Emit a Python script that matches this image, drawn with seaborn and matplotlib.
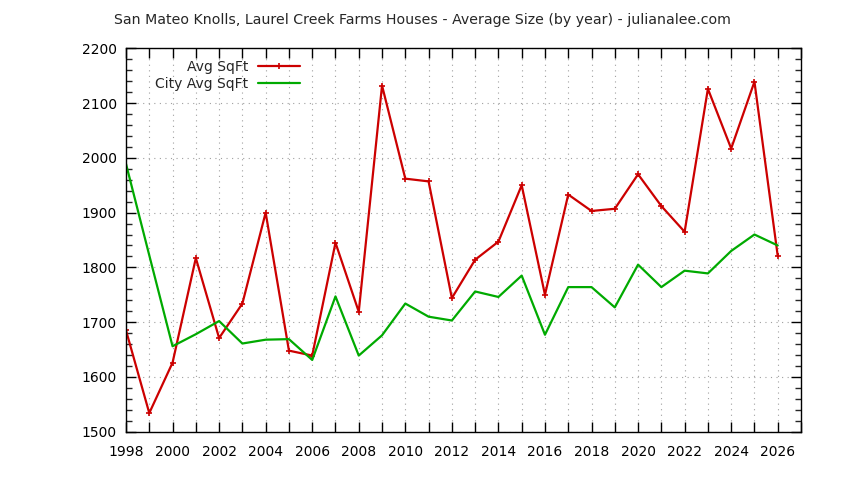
import matplotlib
matplotlib.use("Agg")
import matplotlib.pyplot as plt
from matplotlib.ticker import MultipleLocator, FuncFormatter
import seaborn as sns
import pandas as pd

years = list(range(1998, 2027))
avg_sqft = [1685, 1534, 1626, 1817, 1671, 1734, 1900, 1648, 1639, 1845,
            1719, 2132, 1962, 1957, 1744, 1814, 1847, 1950, 1750, 1933,
            1903, 1907, 1970, 1912, 1865, 2126, 2017, 2139, 1821]
city_avg_sqft = [1989, 1822, 1656, 1678, 1702, 1661, 1668, 1669, 1631, 1747,
                 1639, 1676, 1734, 1710, 1703, 1756, 1746, 1785, 1677, 1764,
                 1764, 1727, 1805, 1764, 1794, 1789, 1830, 1860, 1840]
series_names = ["Avg SqFt", "City Avg SqFt"]
title = "San Mateo Knolls, Laurel Creek Farms Houses - Average Size (by year) - julianalee.com"

sns.set_style("white")
plt.rcParams["font.family"] = ["DejaVu Sans"]

fig = plt.figure(figsize=(8.44, 4.8), dpi=100)
ax = fig.add_axes([126 / 844, 1 - 431.7 / 480, (801 - 126) / 844, (431.7 - 48.3) / 480])

df = pd.DataFrame({"year": years, series_names[0]: avg_sqft, series_names[1]: city_avg_sqft})

red = "#cc0000"
green = "#00aa00"
sns.lineplot(data=df, x="year", y=series_names[0], ax=ax, color=red,
             linewidth=1.6, marker="+", markersize=4, markeredgewidth=1.2,
             markeredgecolor=red, markerfacecolor=red,
             label=series_names[0])
sns.lineplot(data=df, x="year", y=series_names[1], ax=ax, color=green,
             linewidth=1.6, label=series_names[1])

ax.set_xlim(1998, 2027)
ax.set_ylim(1500, 2200)
ax.set_xlabel("")
ax.set_ylabel("")

ax.xaxis.set_major_locator(MultipleLocator(1))
ax.xaxis.set_major_formatter(FuncFormatter(lambda v, p: f"{int(round(v))}" if int(round(v)) % 2 == 0 else ""))
ax.yaxis.set_major_locator(MultipleLocator(100))
ax.yaxis.set_minor_locator(MultipleLocator(20))

ax.tick_params(axis="both", which="major", direction="in", length=7, width=1,
               top=True, right=True, bottom=True, left=True, labelsize=10,
               colors="black")
ax.tick_params(axis="x", which="major", pad=9.5)
ax.tick_params(axis="y", which="major", pad=6.5)
ax.tick_params(axis="y", which="minor", direction="in", length=4, width=1,
               left=True, right=True)
ax.tick_params(axis="x", which="minor", bottom=False, top=False)

ax.grid(True, which="major", color="#a0a0a0", linestyle=(0, (1, 4)), linewidth=0.8)
for s in ax.spines.values():
    s.set_color("black")
    s.set_linewidth(1)

leg = ax.legend(loc="upper right", bbox_to_anchor=((300 - 126) / 675, 1 - (59.5 - 48.3) / 383.4),
                frameon=False, markerfirst=False, handlelength=3.0, handletextpad=0.7,
                labelspacing=0.25, borderpad=0, borderaxespad=0, fontsize=10)

fig.suptitle(title, x=0.5, y=1 - 20 / 480, va="center", fontsize=10.2)

fig.savefig("out.png", dpi=100)
